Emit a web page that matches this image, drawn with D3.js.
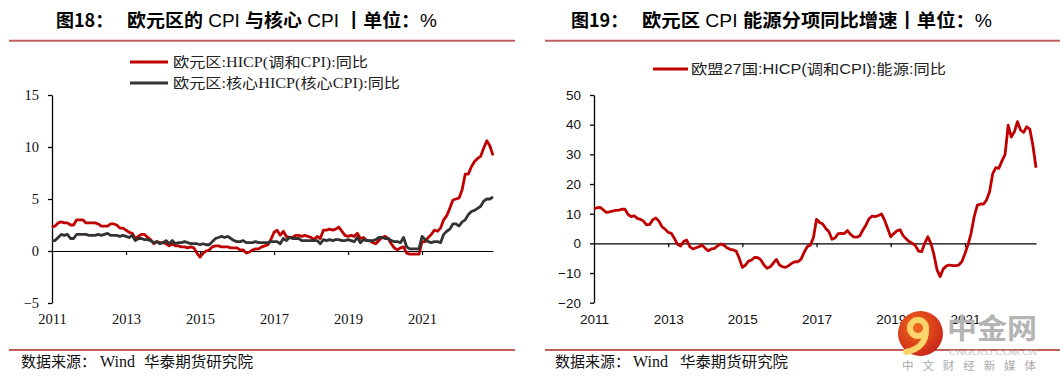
<!DOCTYPE html>
<html><head><meta charset="utf-8">
<script src="https://cdn.jsdelivr.net/npm/d3@7"></script>
<style>body{margin:0;background:#fff} svg{display:block}</style>
</head><body>
<svg id="c" width="1060" height="383"></svg>
<script>
// ---------- DATA (monthly, Jan 2011 – Dec 2022) ----------
const yearLabels = ["2011","2013","2015","2017","2019","2021"];
const yearTickMonths = [0,24,48,72,96,120];
const hicp = [
 2.3,2.4,2.7,2.8,2.7,2.7,2.5,2.5,3.0,3.0,3.0,2.7,
 2.7,2.7,2.7,2.6,2.4,2.4,2.4,2.6,2.6,2.5,2.2,2.2,
 2.0,1.8,1.7,1.2,1.4,1.6,1.6,1.3,1.1,0.7,0.9,0.8,
 0.8,0.7,0.5,0.7,0.5,0.5,0.4,0.4,0.3,0.4,0.3,-0.2,
 -0.6,-0.2,0.0,0.1,0.4,0.5,0.5,0.4,0.4,0.4,0.3,0.3,
 0.3,0.1,0.1,-0.2,-0.1,0.1,0.2,0.2,0.4,0.5,0.6,1.1,
 1.8,2.0,1.5,1.9,1.4,1.3,1.3,1.5,1.5,1.4,1.5,1.4,
 1.3,1.1,1.4,1.2,2.0,2.0,2.1,2.0,2.1,2.3,1.9,1.5,
 1.4,1.5,1.4,1.7,1.2,1.3,1.0,1.0,0.8,0.7,1.0,1.3,
 1.4,1.2,0.7,0.3,0.1,0.3,0.4,-0.2,-0.3,-0.3,-0.3,-0.3,
 0.9,0.9,1.3,1.6,2.0,1.9,2.2,3.0,3.4,4.1,4.9,5.0,
 5.1,5.9,7.4,7.4,8.1,8.6,8.9,9.1,9.9,10.6,10.1,9.2
];
const core = [
 1.0,1.0,1.3,1.6,1.5,1.6,1.2,1.2,1.6,1.6,1.6,1.6,
 1.5,1.5,1.5,1.6,1.5,1.6,1.7,1.5,1.5,1.5,1.4,1.5,
 1.4,1.3,1.5,1.0,1.2,1.2,1.1,1.1,1.0,0.8,0.9,0.7,
 0.8,1.0,0.7,1.0,0.7,0.8,0.8,0.9,0.8,0.7,0.7,0.7,
 0.6,0.7,0.6,0.6,0.9,1.2,1.3,1.4,1.3,1.4,1.2,1.0,
 0.9,0.9,1.0,0.8,0.8,0.8,0.9,0.8,0.8,0.8,0.8,0.9,
 0.9,0.9,0.7,1.2,1.0,1.3,1.2,1.2,1.2,1.0,1.0,1.0,
 1.0,1.0,1.0,0.7,1.1,1.0,1.1,1.0,1.1,1.1,1.0,1.0,
 1.1,1.0,0.9,1.3,0.8,1.1,1.0,1.0,1.0,1.1,1.3,1.3,
 1.2,1.2,1.0,0.9,0.9,0.8,1.3,0.4,0.2,0.2,0.2,0.2,
 1.4,1.1,0.9,0.8,0.9,0.9,0.8,1.6,1.9,2.1,2.6,2.6,
 2.4,2.8,3.0,3.5,3.8,3.9,4.1,4.3,4.8,5.0,5.0,5.2
];
const energy = [
 11.6,12.0,12.1,11.3,10.4,10.6,10.9,11.1,11.2,11.5,11.5,9.8,
 9.0,9.3,8.4,8.1,7.5,6.2,6.4,7.9,8.6,7.5,5.6,4.8,
 3.7,3.4,1.7,-0.3,-0.9,0.6,1.1,-1.1,-1.9,-1.5,-1.1,-0.6,
 -1.7,-2.5,-1.9,-1.7,-0.8,-0.2,-0.6,-1.5,-2.0,-2.2,-2.6,-5.0,
 -8.1,-7.3,-6.0,-5.6,-4.7,-4.8,-5.6,-7.3,-8.4,-7.9,-6.7,-5.4,
 -7.3,-7.9,-8.1,-7.5,-6.7,-6.2,-6.2,-5.3,-3.0,-1.1,-0.6,2.0,
 8.1,7.0,6.5,5.0,3.9,1.4,1.8,3.3,3.4,3.3,4.3,3.0,
 2.2,2.1,2.5,4.5,6.2,8.3,9.2,9.0,9.4,9.9,7.9,5.0,
 2.2,3.3,4.2,4.6,2.6,1.5,0.6,0.0,-0.8,-2.6,-2.8,0.0,
 2.2,0.0,-3.9,-9.0,-11.2,-8.6,-7.6,-7.3,-7.5,-7.5,-7.3,-6.2,
 -3.5,-0.5,3.4,9.0,12.8,13.3,13.2,14.6,17.5,23.5,25.5,25.3,
 27.8,30.0,39.8,35.8,37.6,41.0,38.2,37.4,39.3,38.5,33.0,25.5
];
const leftYTicks = [-5,0,5,10,15];
const rightYTicks = [-20,-10,0,10,20,30,40,50];
// title segments: [text, isLatin]
const leftTitleA = "图18：";
const leftTitleB = [["欧元区的",0],[" CPI ",1],["与核心",0],[" CPI ",1],["┃",0],["单位：",0],["%",1]];
const rightTitleA = "图19：";
const rightTitleB = [["欧元区",0],[" CPI ",1],["能源分项同比增速",0],["┃",0],["单位：",0],["%",1]];
const leftLegend = ["欧元区:HICP(调和CPI):同比", "欧元区:核心HICP(核心CPI):同比"];
const rightLegend = ["欧盟27国:HICP(调和CPI):能源:同比"];
const source = ["数据来源：", "Wind", "华泰期货研究院"];

// ---------- DRAW ----------
const svg = d3.select("#c");
const RED = "#c00000", DARK = "#333333", RULE = "#c0605c";
const CJK_B = "'Noto Sans CJK SC', sans-serif";
const SERIF = "'Liberation Serif', 'Noto Sans CJK SC', serif";
const SANS = "'Liberation Sans', 'Noto Sans CJK SC', sans-serif";
const fmt = d => d < 0 ? "\u2212" + Math.abs(d) : String(d);

function panel(o) {
  const g = svg.append("g");
  // title
  g.append("text").attr("x", o.tA).attr("y", 27).attr("font-family", CJK_B)
    .attr("font-weight", "bold").attr("font-size", 18).attr("fill", "#000").text(o.titleA);
  const tb = g.append("text").attr("x", o.tB).attr("y", 27).attr("font-size", 18).attr("fill", "#000")
    .attr("textLength", o.tBlen).attr("lengthAdjust", "spacingAndGlyphs").attr("xml:space", "preserve");
  o.titleB.forEach(([t, latin]) => {
    tb.append("tspan").attr("font-family", latin ? "'Liberation Sans', sans-serif" : CJK_B)
      .attr("font-weight", latin ? "normal" : "bold").text(t);
  });
  // rules
  g.append("line").attr("x1", o.r0).attr("x2", o.r1).attr("y1", 40.7).attr("y2", 40.7)
    .attr("stroke", RULE).attr("stroke-width", 2);
  g.append("line").attr("x1", o.r0).attr("x2", o.r1).attr("y1", 350).attr("y2", 350)
    .attr("stroke", RULE).attr("stroke-width", 2);
  // source
  const fy = 367;
  g.append("text").attr("x", o.s0).attr("y", fy).attr("font-family", CJK_B).attr("font-size", 15).attr("fill", "#111").text(source[0]);
  g.append("text").attr("x", o.s1).attr("y", fy).attr("font-family", "'Liberation Serif', serif").attr("font-size", 16).attr("fill", "#111").text(source[1]);
  g.append("text").attr("x", o.s2).attr("y", fy).attr("font-family", CJK_B).attr("font-size", 15).attr("fill", "#111")
    .attr("textLength", o.s2len).attr("lengthAdjust", "spacingAndGlyphs").text(source[2]);

  const x = d3.scaleLinear().domain([0, 143]).range([o.x0, o.x1]);
  const y = d3.scaleLinear().domain(o.yDomain).range([o.yBot, 95]);

  // y axis
  const ya = g.append("g").attr("transform", `translate(${o.x0},0)`)
    .call(d3.axisLeft(y).tickValues(o.yTicks).tickSize(4).tickSizeOuter(0).tickPadding(9).tickFormat(fmt));
  ya.selectAll("path,line").attr("stroke", "#000").attr("stroke-width", 1.3);
  ya.selectAll("text").attr("font-family", o.font).attr("font-size", o.fs).attr("fill", "#111");

  // zero line with ticks
  const xa = g.append("g").attr("transform", `translate(0,${y(0)})`)
    .call(d3.axisBottom(x).tickValues(yearTickMonths.slice(1)).tickSize(4).tickSizeOuter(0).tickFormat(""));
  xa.selectAll("path,line").attr("stroke", "#000").attr("stroke-width", 1.2);

  // year labels
  const xl = g.append("g").attr("transform", `translate(0,314)`)
    .call(d3.axisBottom(x).tickValues(yearTickMonths).tickSize(0).tickPadding(0).tickFormat((d, i) => yearLabels[i]));
  xl.select(".domain").remove();
  xl.selectAll("text").attr("font-family", o.font).attr("font-size", o.fs).attr("fill", "#111").attr("dy", "0.71em");

  // series
  const line = d3.line().x((d, i) => x(i)).y(d => y(d));
  o.series.forEach(s => {
    g.append("path").datum(s.values).attr("d", line).attr("fill", "none")
      .attr("stroke", s.color).attr("stroke-width", 2.8).attr("stroke-linejoin", "round");
  });

  // legend
  o.legend.forEach(l => {
    g.append("line").attr("x1", l.lx0).attr("x2", l.lx1).attr("y1", l.y).attr("y2", l.y)
      .attr("stroke", l.color).attr("stroke-width", 3);
    g.append("text").attr("x", l.tx).attr("y", l.y + 5).attr("font-family", o.legFont)
      .attr("font-size", 14).attr("fill", "#222").attr("textLength", l.len)
      .attr("lengthAdjust", "spacingAndGlyphs").text(l.text);
  });
}

panel({
  titleA: leftTitleA, titleB: leftTitleB, tA: 56, tB: 127, tBlen: 310,
  r0: 9, r1: 515, s0: 21, s1: 100, s2: 144, s2len: 109,
  x0: 52, x1: 493, yDomain: [-5, 15], yBot: 303, yTicks: leftYTicks,
  font: SERIF, fs: 14.5, legFont: SERIF,
  series: [{values: hicp, color: RED}, {values: core, color: DARK}],
  legend: [
    {lx0: 130, lx1: 168, y: 62, tx: 173, len: 195, color: RED, text: leftLegend[0]},
    {lx0: 130, lx1: 168, y: 83, tx: 173, len: 227, color: DARK, text: leftLegend[1]}
  ]
});
panel({
  titleA: rightTitleA, titleB: rightTitleB, tA: 571, tB: 642, tBlen: 350,
  r0: 545, r1: 1060, s0: 555, s1: 633, s2: 680, s2len: 108,
  x0: 594, x1: 1036, yDomain: [-20, 50], yBot: 302.7, yTicks: rightYTicks,
  font: SANS, fs: 13.5, legFont: SANS,
  series: [{values: energy, color: RED}],
  legend: [
    {lx0: 653, lx1: 688, y: 69, tx: 691, len: 255, color: RED, text: rightLegend[0]}
  ]
});

// watermark (中金网 logo)
const wm = svg.append("g");
const grad = svg.append("defs").append("radialGradient").attr("id", "lg").attr("cx", "40%").attr("cy", "35%").attr("r", "70%");
grad.append("stop").attr("offset", "0%").attr("stop-color", "#f26a1b");
grad.append("stop").attr("offset", "100%").attr("stop-color", "#c8241a");
wm.append("circle").attr("cx", 920.5).attr("cy", 333.5).attr("r", 22.5).attr("fill", "url(#lg)");
wm.append("circle").attr("cx", 918).attr("cy", 328).attr("r", 8).attr("fill", "none").attr("stroke", "#fbd46a").attr("stroke-width", 6);
wm.append("path").attr("d", "M926,330 Q926,348 906,352").attr("fill", "none").attr("stroke", "#fbd46a").attr("stroke-width", 6).attr("stroke-linecap", "round");
wm.append("text").attr("x", 947).attr("y", 339).attr("font-family", "'Noto Sans CJK SC', sans-serif").attr("font-weight", "bold")
  .attr("font-size", 28).attr("fill", "#b4b4b4").attr("textLength", 90).attr("lengthAdjust", "spacingAndGlyphs").text("中金网");
wm.append("text").attr("x", 949).attr("y", 355).attr("font-family", "'Liberation Sans', sans-serif")
  .attr("font-size", 7).attr("fill", "#c4c4c4").attr("textLength", 88).attr("lengthAdjust", "spacingAndGlyphs").text("CNGOLD.COM.CN");
wm.append("text").attr("x", 902).attr("y", 370).attr("font-family", "'Noto Sans CJK SC', sans-serif")
  .attr("font-size", 11.5).attr("fill", "#a8a8a8").attr("textLength", 134).attr("lengthAdjust", "spacing").text("中文财经新媒体");
</script>
</body></html>
